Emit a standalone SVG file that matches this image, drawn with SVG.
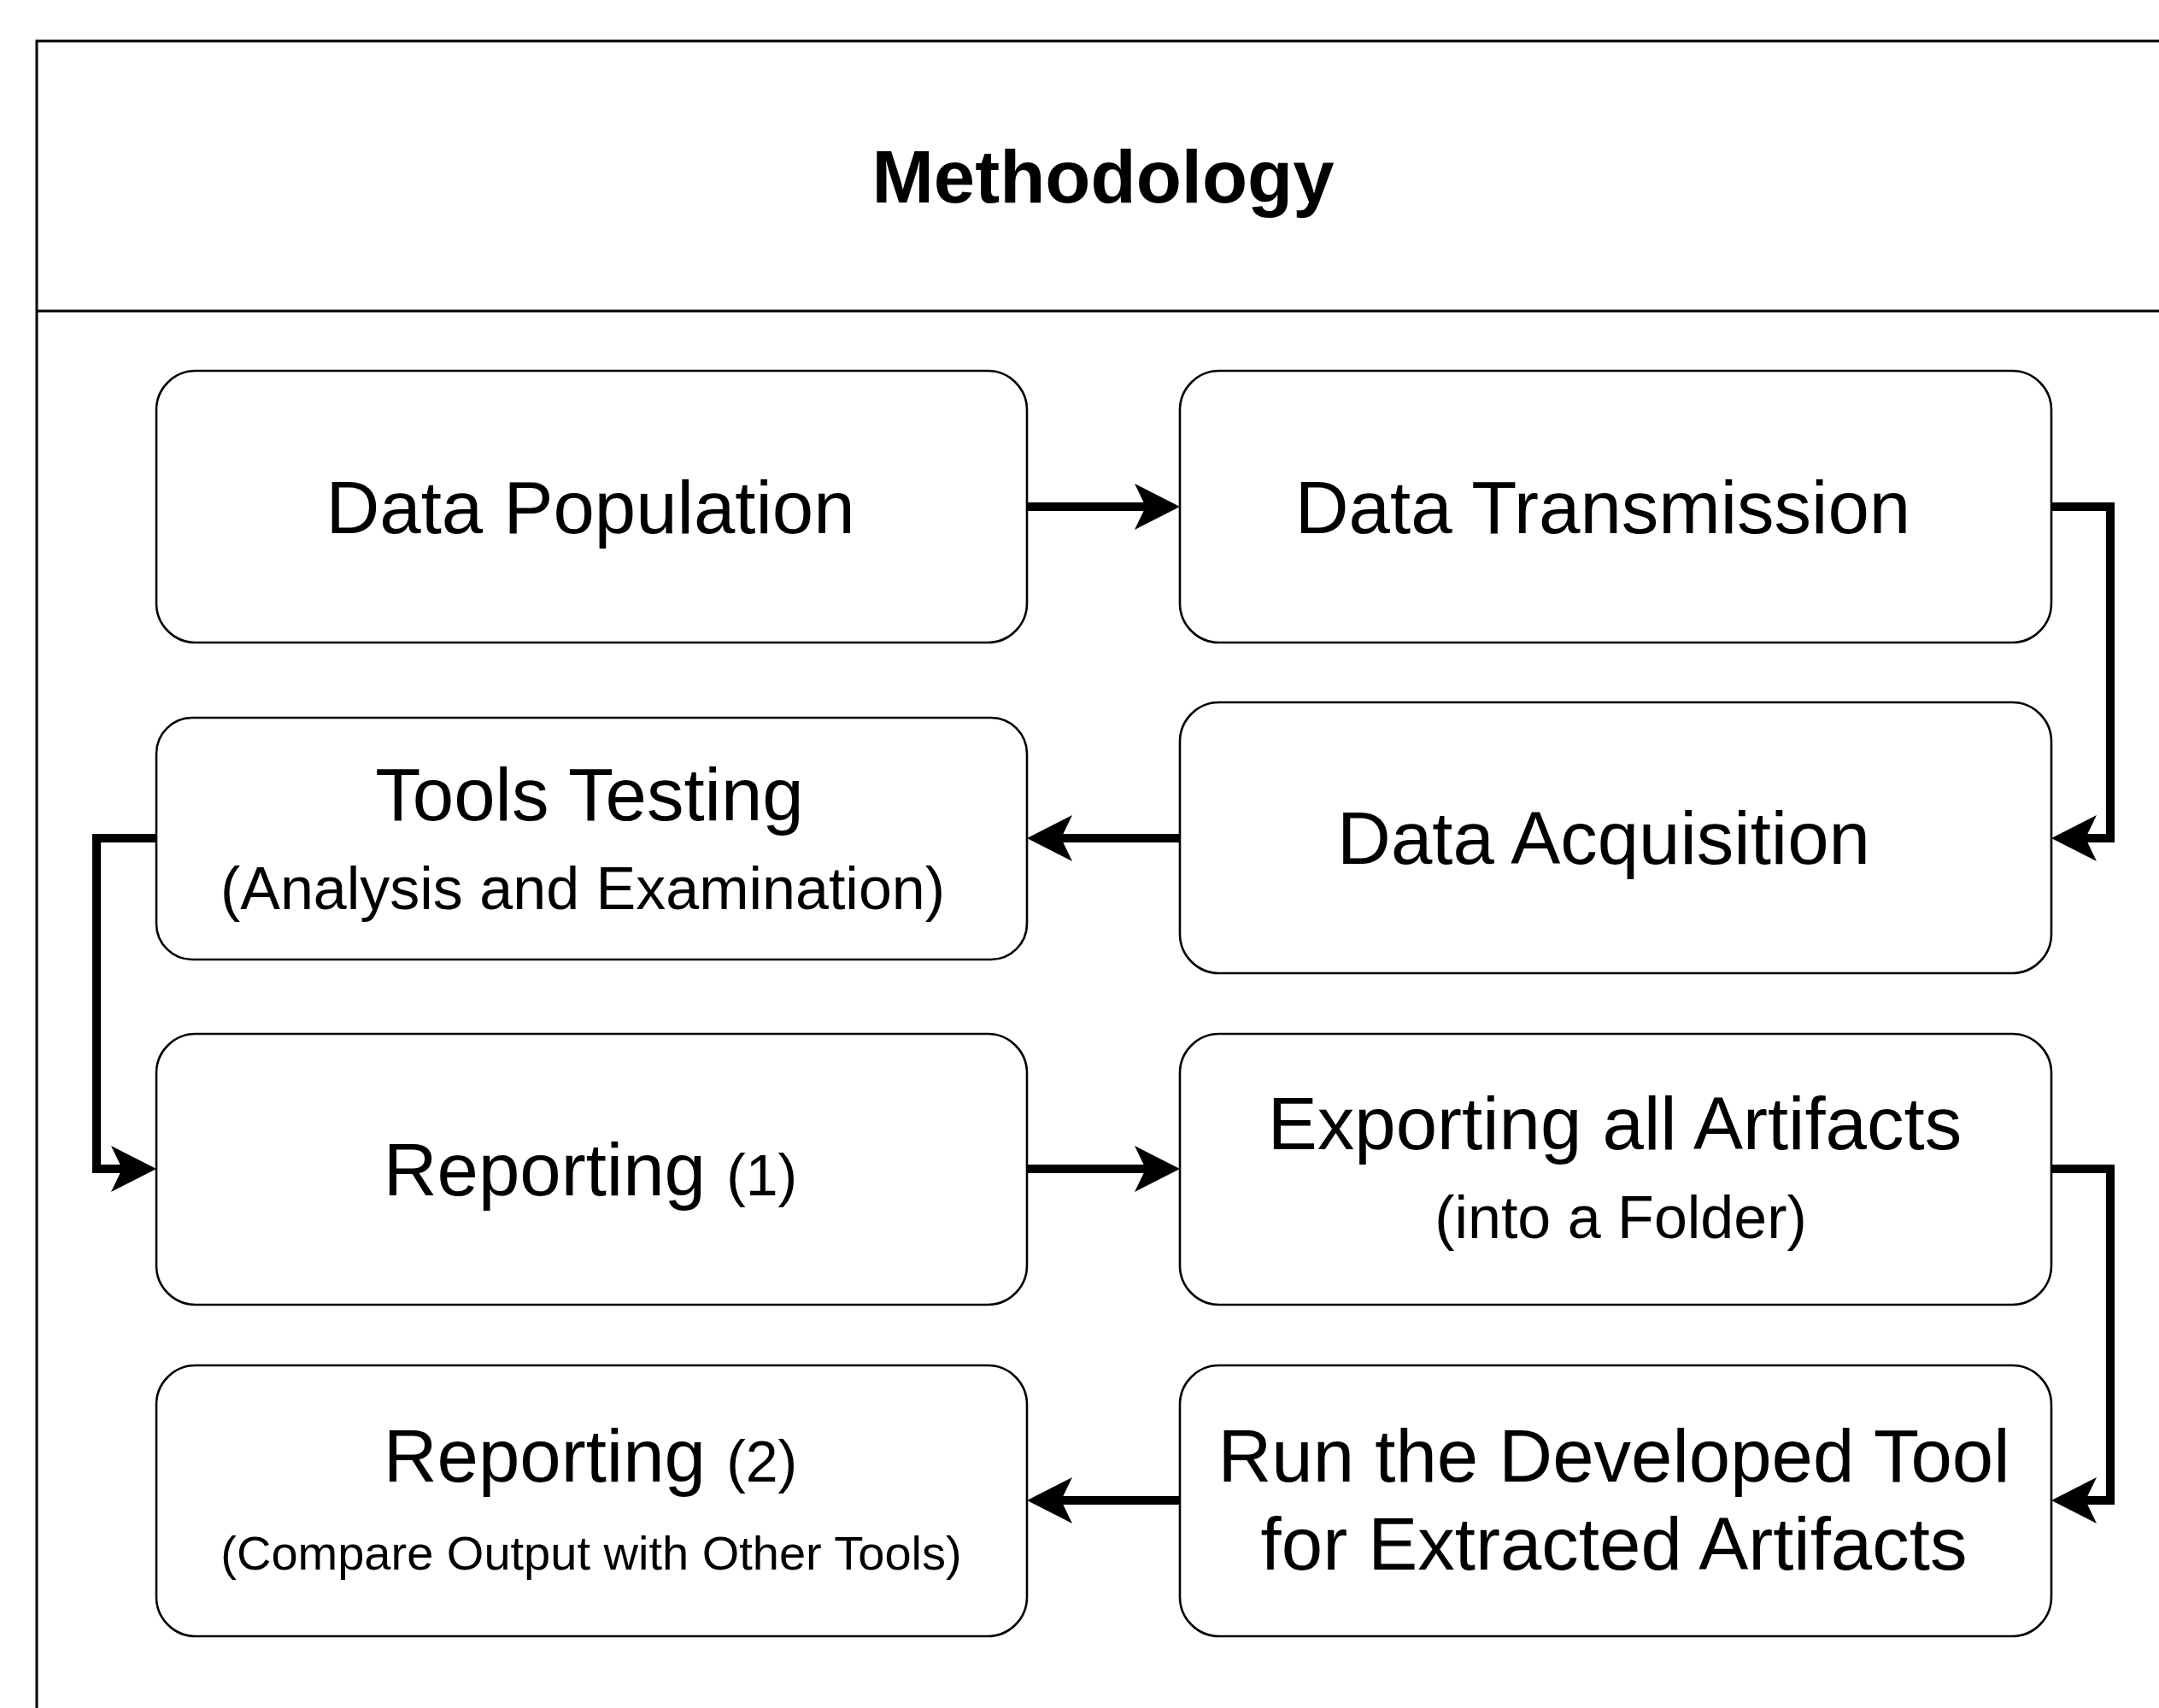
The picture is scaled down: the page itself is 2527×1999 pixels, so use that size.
<svg xmlns="http://www.w3.org/2000/svg" width="2527" height="1999" viewBox="0 0 2527 1999">
  <style>
    .frame { fill: none; stroke: #000; stroke-width: 3; }
    .box { fill: #fff; stroke: #000; stroke-width: 2.6; }
    .conn { fill: none; stroke: #000; stroke-width: 10.2; stroke-linejoin: miter; }
    text { font-family: "Liberation Sans", Arial, Helvetica, sans-serif; fill: #000; text-anchor: middle; }
    .title { font-size: 87px; font-weight: bold; }
    .main { font-size: 87px; }
    .sub { font-size: 70px; }
    .small { font-size: 56px; }
    .num { font-size: 68px; }
  </style>
  <defs>
    <marker id="arr" markerUnits="userSpaceOnUse" markerWidth="60" markerHeight="60" viewBox="0 -30 60 60" refX="13" refY="0" orient="auto">
      <path d="M0,-27 L53,0 L0,27 L13,0 Z" fill="#000"/>
    </marker>
  </defs>
  <rect x="0" y="0" width="2527" height="1999" fill="#fff"/>

  <g id="container">
    <rect class="frame" x="43" y="48" width="2497" height="2100"/>
    <line class="frame" x1="43" y1="364" x2="2540" y2="364"/>
    <text class="title" x="1291" y="237">Methodology</text>
  </g>

  <g id="connectors">
    <path class="conn" d="M1202,593 H1341" marker-end="url(#arr)"/>
    <path class="conn" d="M2401,593 H2470 V981 H2441" marker-end="url(#arr)"/>
    <path class="conn" d="M1381,981 H1242" marker-end="url(#arr)"/>
    <path class="conn" d="M183,981 H113 V1368 H143" marker-end="url(#arr)"/>
    <path class="conn" d="M1202,1368 H1341" marker-end="url(#arr)"/>
    <path class="conn" d="M2401,1368 H2470 V1756 H2441" marker-end="url(#arr)"/>
    <path class="conn" d="M1381,1756 H1242" marker-end="url(#arr)"/>
  </g>

  <g id="data-population">
    <rect class="box" x="183" y="434" width="1019" height="318" rx="46" ry="46"/>
    <text class="main" x="691" y="624">Data Population</text>
  </g>

  <g id="data-transmission">
    <rect class="box" x="1381" y="434" width="1020" height="318" rx="46" ry="46"/>
    <text class="main" x="1876" y="624">Data Transmission</text>
  </g>

  <g id="tools-testing">
    <rect class="box" x="183" y="840" width="1019" height="283" rx="42" ry="42"/>
    <text class="main" x="690" y="960">Tools Testing</text>
    <text class="sub" x="682" y="1064">(Analysis and Examination)</text>
  </g>

  <g id="data-acquisition">
    <rect class="box" x="1381" y="822" width="1020" height="317" rx="46" ry="46"/>
    <text class="main" x="1877" y="1011">Data Acquisition</text>
  </g>

  <g id="reporting-1">
    <rect class="box" x="183" y="1210" width="1019" height="317" rx="46" ry="46"/>
    <text class="main" x="691" y="1399">Reporting <tspan class="num">(1)</tspan></text>
  </g>

  <g id="exporting">
    <rect class="box" x="1381" y="1210" width="1020" height="317" rx="46" ry="46"/>
    <text class="main" x="1890" y="1345">Exporting all Artifacts</text>
    <text class="sub" x="1897" y="1449">(into a Folder)</text>
  </g>

  <g id="reporting-2">
    <rect class="box" x="183" y="1598" width="1019" height="317" rx="46" ry="46"/>
    <text class="main" x="691" y="1734">Reporting <tspan class="num">(2)</tspan></text>
    <text class="small" x="692" y="1837">(Compare Output with Other Tools)</text>
  </g>

  <g id="run-tool">
    <rect class="box" x="1381" y="1598" width="1020" height="317" rx="46" ry="46"/>
    <text class="main" x="1889" y="1734">Run the Developed Tool</text>
    <text class="main" x="1889" y="1837">for Extracted Artifacts</text>
  </g>
</svg>
